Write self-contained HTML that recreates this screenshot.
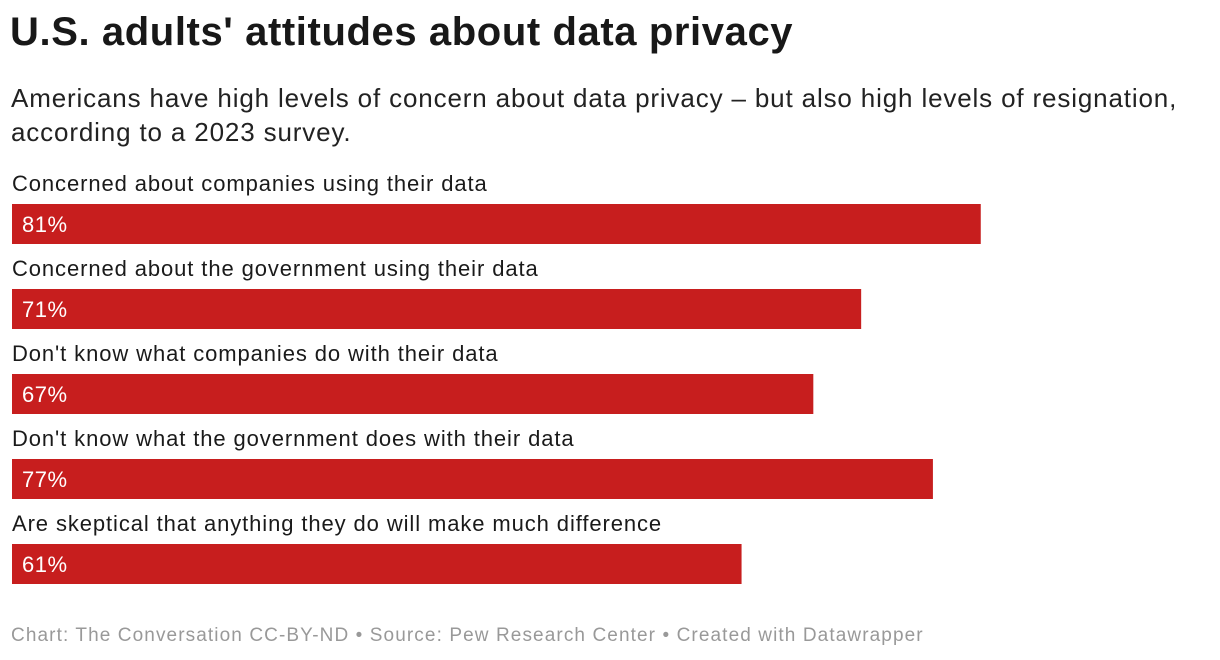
<!DOCTYPE html>
<html><head><meta charset="utf-8"><style>
body{margin:0;width:1220px;height:660px;background:#fff;font-family:"Liberation Sans",sans-serif;position:relative;overflow:hidden;color:#181818}
.t{position:absolute;left:10px;top:10px;font-size:40px;font-weight:bold;letter-spacing:0.6px}
.s{position:absolute;left:11px;top:81px;font-size:26px;line-height:34px;color:#222;letter-spacing:0.85px;white-space:nowrap}
.f{position:absolute;left:11px;top:625px;font-size:19px;color:#999;letter-spacing:1.1px;white-space:nowrap}
</style></head><body>
<div class="t">U.S. adults' attitudes about data privacy</div>
<div class="s">Americans have high levels of concern about data privacy – but also high levels of resignation,<br>according to a 2023 survey.</div>
<svg id="c" width="1220" height="660" style="position:absolute;left:0;top:0"></svg>
<div class="f">Chart: The Conversation CC-BY-ND • Source: Pew Research Center • Created with Datawrapper</div>
<script>
const categories=["Concerned about companies using their data","Concerned about the government using their data","Don't know what companies do with their data","Don't know what the government does with their data","Are skeptical that anything they do will make much difference"];
const values=[81,71,67,77,61];
const svg=document.getElementById('c');
const NS='http://www.w3.org/2000/svg';
const x=v=>v*11.96;
const y0=i=>204+i*85;
categories.forEach((c,i)=>{
  const t=document.createElementNS(NS,'text');
  
  
  t.setAttribute('x',12);t.setAttribute('y',y0(i)-13);
  t.setAttribute('font-size','22');t.setAttribute('fill','#1a1a1a');
  t.setAttribute('letter-spacing','0.9');
  t.setAttribute('font-family','Liberation Sans, sans-serif');
  t.textContent=c;svg.appendChild(t);
  const r=document.createElementNS(NS,'rect');
  
  
  r.setAttribute('x',12);r.setAttribute('y',y0(i));
  r.setAttribute('width',x(values[i]));r.setAttribute('height',40);
  r.setAttribute('fill','#c71e1e');svg.appendChild(r);
  const v=document.createElementNS(NS,'text');
  
  
  v.setAttribute('x',22);v.setAttribute('y',y0(i)+28);
  v.setAttribute('font-size','22');v.setAttribute('fill','#fff');
  v.setAttribute('letter-spacing','0.5');
  v.setAttribute('font-family','Liberation Sans, sans-serif');
  v.textContent=values[i]+'%';svg.appendChild(v);
});
</script>
</body></html>
